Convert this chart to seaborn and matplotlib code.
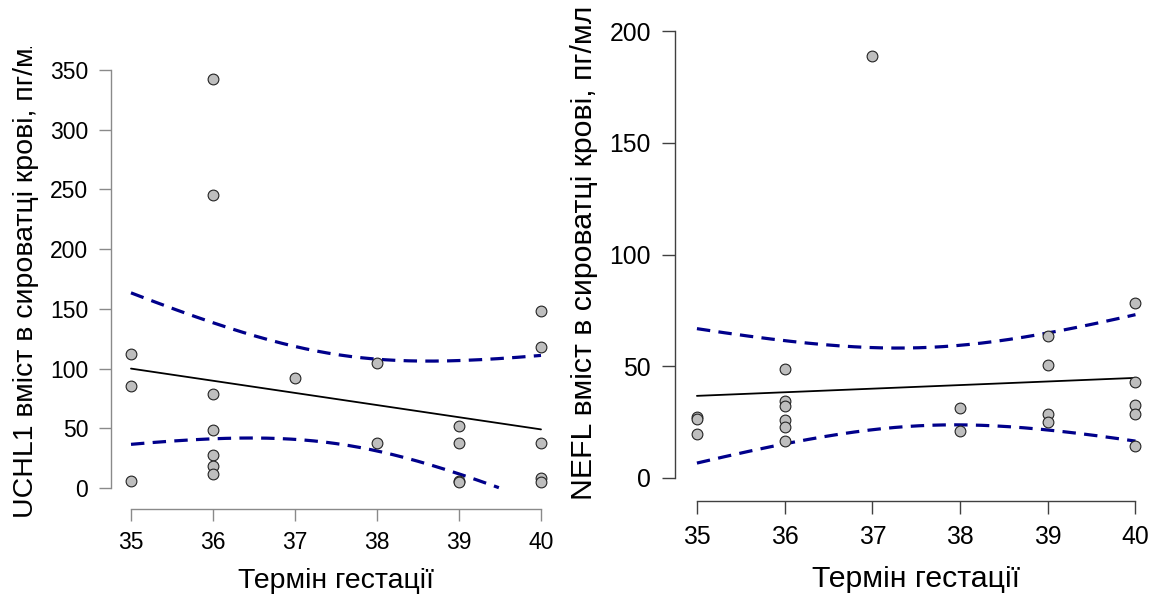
import numpy as np
import pandas as pd
import matplotlib
matplotlib.use("Agg")
import matplotlib.pyplot as plt
from matplotlib.transforms import Bbox, TransformedBbox
import seaborn as sns

# ---- data ----
uchl1_x = [35, 35, 35,
           36, 36, 36, 36, 36, 36, 36,
           37,
           38, 38,
           39, 39, 39, 39,
           40, 40, 40, 40, 40]
uchl1_y = [112, 85, 6,
           342, 245, 78.5, 48.6, 28, 18.4, 11.7,
           92,
           105, 38,
           51.6, 38, 6, 5,
           148.5, 118, 38, 8.6, 5]

nefl_x = [35, 35, 35,
          36, 36, 36, 36, 36, 36,
          37,
          38, 38,
          39, 39, 39, 39,
          40, 40, 40, 40, 40]
nefl_y = [27.5, 26.5, 19.5,
          48.9, 34.3, 32.4, 26.1, 22.8, 16.6,
          189,
          31.2, 21.2,
          63.6, 50.4, 28.8, 24.9,
          78.2, 42.8, 32.8, 28.8, 14.2]

x_ticks = [35, 36, 37, 38, 39, 40]
uchl1_ticks = [0, 50, 100, 150, 200, 250, 300, 350]
nefl_ticks = [0, 50, 100, 150, 200]

x_label = "Термін гестації"
uchl1_label = "UCHL1 вміст в сироватці крові, пг/мл"
nefl_label = "NEFL вміст в сироватці крові, пг/мл"

# t critical values (95%, df = n - 2)
T_CRIT = {20: 2.086, 19: 2.093}

sns.set_theme(style="white")
plt.rcParams['font.family'] = ['Liberation Sans', 'DejaVu Sans']
plt.rcParams['text.color'] = 'black'
plt.rcParams['axes.labelcolor'] = 'black'

W, H = 1160, 600
fig = plt.figure(figsize=(W / 100, H / 100), dpi=100)


def px_axes(l, r, t, b):
    return fig.add_axes([l / W, 1 - b / H, (r - l) / W, (b - t) / H])


def ols_ci(x, y, xs):
    x = np.asarray(x, float)
    y = np.asarray(y, float)
    n = len(x)
    b1, b0 = np.polyfit(x, y, 1)
    res = y - (b0 + b1 * x)
    s = np.sqrt(np.sum(res ** 2) / (n - 2))
    sxx = np.sum((x - x.mean()) ** 2)
    fit = b0 + b1 * xs
    se = s * np.sqrt(1 / n + (xs - x.mean()) ** 2 / sxx)
    t = T_CRIT[n - 2]
    return fit - t * se, fit + t * se


def panel(ax, xv, yv, yticks, ylabel, ylim, tick_color, tsize, lsize,
          ticklen, tickpad):
    df = pd.DataFrame({"x": xv, "y": yv})
    xs = np.linspace(35, 40, 400)
    lo, hi = ols_ci(xv, yv, xs)
    lo = np.where((lo >= yticks[0]) & (lo <= yticks[-1]), lo, np.nan)
    hi = np.where((hi >= yticks[0]) & (hi <= yticks[-1]), hi, np.nan)
    ax.plot(xs, hi, color="#00008B", lw=2.3, ls=(0, (4.2, 2.6)), zorder=2)
    ax.plot(xs, lo, color="#00008B", lw=2.3, ls=(0, (4.2, 2.6)), zorder=2)
    sns.regplot(data=df, x="x", y="y", ax=ax, scatter=False, ci=None,
                color="black", line_kws={"lw": 1.3, "zorder": 3})
    sns.scatterplot(data=df, x="x", y="y", ax=ax, s=60, color="#BEBEBE",
                    edgecolor="#222222", linewidth=0.8, zorder=4, legend=False)
    ax.set_xlim(34.75, 40.25)
    ax.set_ylim(*ylim)
    ax.set_xticks(x_ticks)
    ax.set_yticks(yticks)
    for sp in ["top", "right"]:
        ax.spines[sp].set_visible(False)
    for sp in ["left", "bottom"]:
        ax.spines[sp].set_color(tick_color)
        ax.spines[sp].set_linewidth(1.0)
    ax.spines["left"].set_bounds(yticks[0], yticks[-1])
    ax.spines["bottom"].set_bounds(x_ticks[0], x_ticks[-1])
    ax.tick_params(axis="both", direction="out", length=ticklen, width=1.0,
                   color=tick_color, labelsize=tsize, labelcolor="black",
                   pad=tickpad, left=True, bottom=True)
    ax.set_xlabel(x_label, fontsize=lsize)
    ax.set_ylabel(ylabel, fontsize=lsize)
    ax.yaxis.label.set_horizontalalignment("left")
    ax.set_facecolor("white")


ax1 = px_axes(110.5, 561.5, 58, 509)
panel(ax1, uchl1_x, uchl1_y, uchl1_ticks, uchl1_label, (-17.6, 360),
      "#8a8a8a", 16.5, 20.5, 8.6, 7.5)
ax1.yaxis.set_label_coords(39 / W, 1 - 518 / H, transform=fig.transFigure)
ax1.xaxis.set_label_coords(336 / W, 1 - 568 / H, transform=fig.transFigure)
# the reference clips this long label at the top of its panel
ax1.yaxis.label.set_clip_box(
    TransformedBbox(Bbox.from_extents(0, 0, 0.5, 1 - 47 / H), fig.transFigure))
ax1.yaxis.label.set_clip_on(True)

ax2 = px_axes(675, 1157.4, 20, 501)
panel(ax2, nefl_x, nefl_y, nefl_ticks, nefl_label, (-10.3, 205),
      "#404040", 17.8, 21.8, 9.2, 8.2)
ax2.yaxis.set_label_coords(598 / W, 1 - 500 / H, transform=fig.transFigure)
ax2.xaxis.set_label_coords(916 / W, 1 - 565 / H, transform=fig.transFigure)

fig.savefig("out.png", dpi=100, facecolor="white")
